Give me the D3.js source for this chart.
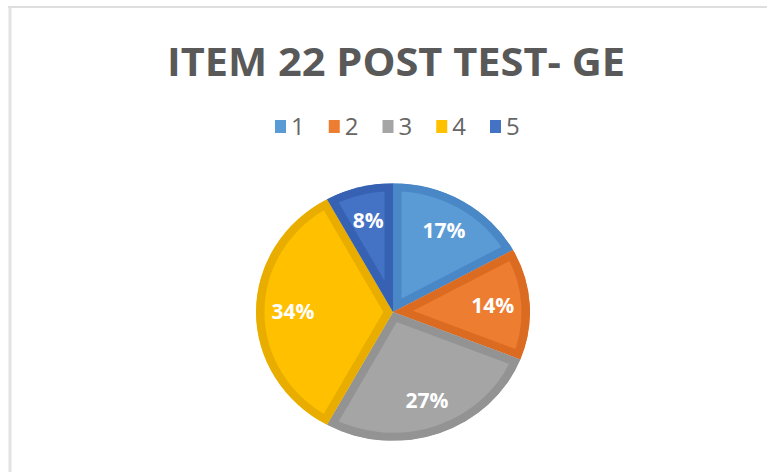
<!DOCTYPE html>
<html>
<head>
<meta charset="utf-8">
<script src="https://cdn.jsdelivr.net/npm/d3@7"></script>
<style>
  body { margin: 0; background: #fff; }
  svg { display: block; }
</style>
</head>
<body>
<div id="chart"></div>
<script>
// data
var categories = ["1", "2", "3", "4", "5"];
var values = [17, 14, 27, 34, 8];
var labels = ["17%", "14%", "27%", "34%", "8%"];
var fills = ["#5b9bd5", "#ed7d31", "#a5a5a5", "#ffc000", "#4472c4"];
var edges = ["#4a87c6", "#dc6b22", "#939393", "#e9ad00", "#3762b3"];

var W = 767, H = 472;
var cx = 393, cy = 312, r = 137, squash = 0.94;

var svg = d3.select("#chart").append("svg")
    .attr("width", W)
    .attr("height", H);

// frame lines (top + left)
svg.append("line").attr("x1", 8).attr("x2", W).attr("y1", 7).attr("y2", 7)
    .attr("stroke", "#dedede").attr("stroke-width", 2);
svg.append("line").attr("x1", 10).attr("x2", 10).attr("y1", 7).attr("y2", H)
    .attr("stroke", "#e2e2e2").attr("stroke-width", 3);

// title
svg.append("text")
    .attr("x", 396)
    .attr("y", 76)
    .attr("text-anchor", "middle")
    .attr("font-family", "'Open Sans', sans-serif")
    .attr("font-weight", "bold")
    .attr("font-size", 39)
    .attr("fill", "#595959")
    .attr("textLength", 458)
    .attr("lengthAdjust", "spacingAndGlyphs")
    .text("ITEM 22 POST TEST- GE");

// legend
var legX = d3.scalePoint().domain(categories).range([275, 490]);
var leg = svg.append("g").selectAll("g")
    .data(categories)
    .enter().append("g")
    .attr("transform", function(d) { return "translate(" + legX(d) + ",120)"; });
leg.append("rect")
    .attr("width", 11).attr("height", 13)
    .attr("fill", function(d, i) { return fills[i]; });
leg.append("text")
    .attr("x", 16).attr("y", 15)
    .attr("font-family", "'Open Sans', sans-serif")
    .attr("font-size", 24)
    .attr("fill", "#666")
    .text(function(d) { return d; });

// pie
var pie = d3.pie().sort(null).value(function(d) { return d; });
var arcs = pie(values);
var arc = d3.arc().innerRadius(0).outerRadius(r);
var labelArc = d3.arc().innerRadius(100).outerRadius(100);

var g = svg.append("g")
    .attr("transform", "translate(" + cx + "," + cy + ") scale(1," + squash + ")");

var defs = svg.append("defs");
defs.selectAll("clipPath")
    .data(arcs)
    .enter().append("clipPath")
    .attr("id", function(d, i) { return "clip" + i; })
    .append("path")
    .attr("d", arc);

g.selectAll("path.slice")
    .data(arcs)
    .enter().append("path")
    .attr("class", "slice")
    .attr("d", arc)
    .attr("fill", function(d, i) { return fills[i]; })
    .attr("stroke", function(d, i) { return edges[i]; })
    .attr("stroke-width", 17)
    .attr("stroke-linejoin", "miter")
    .attr("clip-path", function(d, i) { return "url(#clip" + i + ")"; });

svg.append("g")
    .attr("transform", "translate(" + cx + "," + cy + ")")
    .selectAll("text")
    .data(arcs)
    .enter().append("text")
    .attr("transform", function(d) {
        var c = labelArc.centroid(d);
        return "translate(" + c[0] + "," + (c[1] * squash) + ")";
    })
    .attr("dy", "0.35em")
    .attr("text-anchor", "middle")
    .attr("font-family", "'Open Sans', sans-serif")
    .attr("font-weight", "bold")
    .attr("font-size", 21)
    .attr("fill", "#fff")
    .text(function(d, i) { return labels[i]; });
</script>
</body>
</html>
